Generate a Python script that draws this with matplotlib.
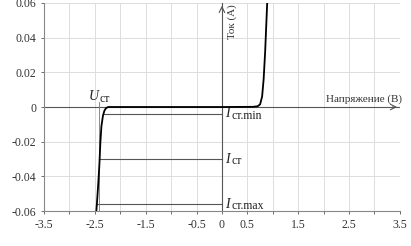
import matplotlib.pyplot as plt

plt.rcParams['font.family'] = ['Liberation Serif', 'DejaVu Serif']

# zener diode I-V curve
volt = [-2.47, -2.45, -2.43, -2.41, -2.39, -2.37, -2.34, -2.31, -2.28, -2.24,
        -1.6, 0.0, 0.6, 0.7, 0.75, 0.79, 0.82, 0.85, 0.87, 0.89]
curr = [-0.06, -0.052, -0.043, -0.033, -0.02, -0.011, -0.005, -0.002, -0.0007, 0.0,
        0.0, 0.0, 0.0001, 0.0004, 0.0015, 0.006, 0.016, 0.032, 0.046, 0.06]

lvl_subs = ['ст.min', 'ст', 'ст.max']
lvl_curr = [-0.004, -0.03, -0.056]
lvl_start = [-2.33, -2.41, -2.455]

x_ticks = [-3.5, -3.0, -2.5, -2.0, -1.5, -1.0, -0.5, 0.0, 0.5, 1.0, 1.5, 2.0, 2.5, 3.0, 3.5]
x_labels = ['-3.5', '', '-2.5', '', '-1.5', '', '-0.5', '0', '0.5', '', '1.5', '', '2.5', '', '3.5']
y_ticks = [-0.06, -0.04, -0.02, 0, 0.02, 0.04, 0.06]
y_labels = ['-0.06', '-0.04', '-0.02', '0', '0.02', '0.04', '0.06']

fig = plt.figure(figsize=(4.11, 2.46), dpi=100)
ax = fig.add_axes([0.107, 0.142, 0.866, 0.846])

ax.set_xlim(-3.5, 3.5)
ax.set_ylim(-0.06, 0.06)
ax.set_xticks(x_ticks)
ax.set_xticklabels(x_labels)
ax.set_yticks(y_ticks)
ax.set_yticklabels(y_labels)
ax.tick_params(labelsize=8.5, colors='#555555', labelcolor='#333333', length=2, width=0.6)
ax.grid(True, color='#dddddd', linewidth=0.7)
ax.set_axisbelow(True)
for s in ['top', 'right']:
    ax.spines[s].set_visible(False)
for s in ['left', 'bottom']:
    ax.spines[s].set_color('#888888')
    ax.spines[s].set_linewidth(0.8)

# axes through origin with arrows
ax.plot([-3.5, 3.5], [0, 0], color='#555555', lw=0.8, zorder=2)
ax.plot([0, 0], [-0.06, 0.06], color='#555555', lw=0.8, zorder=2)
ax.annotate('', xy=(3.5, 0), xytext=(3.3, 0),
            arrowprops=dict(arrowstyle='->', color='#555555', lw=0.8), annotation_clip=False)
ax.annotate('', xy=(0, 0.06), xytext=(0, 0.055),
            arrowprops=dict(arrowstyle='->', color='#555555', lw=0.8), annotation_clip=False)

# current levels
for sub, c, x0 in zip(lvl_subs, lvl_curr, lvl_start):
    ax.plot([x0, 0], [c, c], color='#555555', lw=0.8, zorder=3)
    ax.text(0.07, c, 'I', fontsize=10, style='italic', va='center', ha='left', color='#222222')
    ax.annotate(sub, xy=(0.07, c), xytext=(4.5, -1.5), textcoords='offset points',
                fontsize=8.5, va='center', ha='left', color='#222222')

# stabilization voltage marker
ax.plot([-2.42, -2.42], [0.003, -0.06], color='#777777', lw=0.6, zorder=3)
ax.text(-2.62, 0.0025, 'U', fontsize=10, style='italic', va='bottom', ha='left', color='#222222')
ax.annotate('ст', xy=(-2.62, 0.0025), xytext=(7.5, -1.5), textcoords='offset points',
            fontsize=8.5, va='bottom', ha='left', color='#222222')

ax.plot(volt, curr, color='black', lw=1.3, zorder=4)

ax.text(0.1, 0.0595, 'Ток (А)', rotation=90, fontsize=8, va='top', ha='left', color='#333333')
ax.text(3.55, 0.002, 'Напряжение (В)', fontsize=8, va='bottom', ha='right', color='#333333')

plt.savefig('out.png', dpi=100)
